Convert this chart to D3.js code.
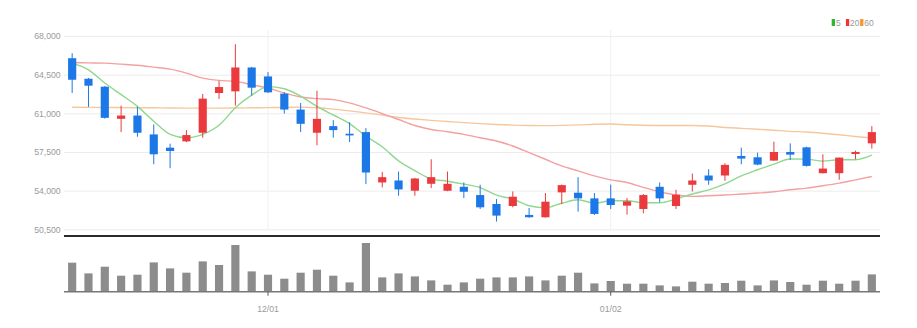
<!DOCTYPE html>
<html>
<head>
<meta charset="utf-8">
<script src="https://cdn.jsdelivr.net/npm/d3@7"></script>
<style>
  html, body { margin: 0; padding: 0; background: #fff; }
  svg { display: block; }
  text { font-family: 'Liberation Sans', Arial, sans-serif; }
</style>
</head>
<body>
<svg id="chart" width="917" height="328"></svg>
<script>
// Trading days (MM/DD), Nov 2022 – Jan 2023
const dates = ["11/15","11/16","11/17","11/18","11/21","11/22","11/23","11/24","11/25","11/28","11/29","11/30",
  "12/01","12/02","12/05","12/06","12/07","12/08","12/09","12/12","12/13","12/14","12/15","12/16","12/19","12/20",
  "12/21","12/22","12/23","12/26","12/27","12/28","12/29",
  "01/02","01/03","01/04","01/05","01/06","01/09","01/10","01/11","01/12","01/13","01/16","01/17","01/18","01/19",
  "01/20","01/25","01/26"];

const open  = [65990,64130,63410,60500,60800,59090,57890,58460,59240,62840,62990,65150,64340,62780,61340,59240,
  59840,59150,59300,54740,54920,53990,54620,53990,54350,53600,52790,52610,51800,51590,53840,53810,53300,53300,
  52640,52340,54350,52610,54530,55370,55370,57140,57020,56720,57500,57920,55580,55580,57320,58280];
const high  = [66440,64200,63480,61700,61580,59990,58250,59480,62750,63950,67250,65200,64730,62900,61940,63050,
  60380,60200,59660,55700,55730,55150,56840,55730,54740,54530,53240,53930,52430,53780,54550,55220,53780,54540,
  53330,53690,54740,54080,55550,55940,56480,57890,57440,58430,58280,57980,57290,56990,57620,59840];
const low   = [62840,61580,60520,59300,58880,56390,56030,58400,58790,62300,61700,62600,62850,60980,59300,58100,
  58790,58400,54590,54290,53540,53540,54230,53950,53330,52340,51200,52490,51550,51550,52790,52100,51800,52340,
  51830,51950,52940,52340,53930,54530,54890,56390,56300,56700,56780,56180,55550,54980,56840,57800];
const close = [64040,63500,60590,60800,59240,57290,57590,59030,62330,63380,65150,63320,62900,61340,60050,60500,
  59480,59000,55640,55220,54110,55100,55220,54620,53900,52490,51740,53450,51590,53000,54500,53300,51890,52700,
  53030,53600,53300,53630,54920,54920,56330,56900,56360,57500,57260,56240,56000,56990,57500,59300];

// Traded volume (thousand shares)
const volume = [14500,9150,12500,8000,8500,14650,11650,9500,15150,13350,23350,10150,8500,6500,9500,11000,8000,
  4650,24350,7150,9150,7650,5650,3500,4650,6500,7150,7150,7650,5650,8000,9500,4150,5350,4000,4000,3150,2650,
  5000,4000,4350,5500,3150,5650,4850,3500,5500,4000,5500,8650];

// Moving averages
const ma5  = [65540,64940,63740,62690,61630,60280,59100,58790,59100,59920,61500,62640,63420,63220,62550,61620,
  60850,60070,58930,57970,56690,55810,55060,54850,54590,54270,53590,53240,52630,52450,52860,53170,52860,53080,
  53080,52900,52900,53250,53700,54070,54620,55340,55890,56400,56870,56850,56670,56800,56800,57210];
const ma20 = [65600,65570,65540,65450,65350,65180,65000,64640,64190,63980,63890,63590,63290,62840,62480,62330,
  62240,61940,61490,60980,60440,59900,59540,59330,59090,58790,58490,58040,57440,56840,56240,55790,55340,54980,
  54740,54290,53900,53600,53480,53540,53600,53690,53780,53900,54080,54230,54440,54680,54980,55280];
const ma60 = [61550,61540,61530,61520,61510,61500,61480,61470,61470,61470,61480,61500,61520,61530,61560,61500,
  61380,61220,61040,60850,60620,60480,60360,60260,60160,60070,59990,59930,59900,59890,59910,59950,60010,60030,
  59960,59920,59900,59900,59900,59850,59720,59640,59560,59470,59370,59310,59200,59060,58900,58760];

const priceTicks = [50500, 54000, 57500, 61000, 64500, 68000];
const dateTicks = ["12/01", "01/02"];
const legendItems = [
  { label: "5",  color: "#2db82d", line: "#8fd88f", values: ma5 },
  { label: "20", color: "#ee3434", line: "#f4a0a0", values: ma20 },
  { label: "60", color: "#f7982c", line: "#f6c79c", values: ma60 }
];

const UP = "#ea3a3e", DOWN = "#1c78e6";
const LABEL = "#9a9a9a";

const svg = d3.select("#chart");
const left = 64, right = 880;

const x = d3.scaleBand().domain(dates).range([left, right]).paddingInner(0.5).paddingOuter(0.25);
const cx = d => x(d) + x.bandwidth() / 2;
const y = d3.scaleLinear().domain([50500, 68000]).range([229.3, 36]);
const yv = d3.scaleLinear().domain([0, 25000]).range([291.7, 241.7]);

// horizontal grid + price labels
const yAxis = d3.axisLeft(y).tickValues(priceTicks).tickSize(-(right - left)).tickFormat(d3.format(","));
const gy = svg.append("g").attr("transform", `translate(${left},0)`).call(yAxis);
gy.select(".domain").remove();
gy.selectAll(".tick line").attr("stroke", "#ececec");
gy.selectAll(".tick text").attr("x", -3.3).attr("fill", LABEL).attr("font-size", 8.7);

// vertical grid at month starts
svg.append("g").selectAll("line").data(dateTicks).join("line")
  .attr("x1", d => cx(d)).attr("x2", d => cx(d))
  .attr("y1", 30).attr("y2", 229)
  .attr("stroke", "#efefef");

// moving average lines
const lineGen = vals => d3.line().x((v, i) => cx(dates[i])).y(v => y(v)).curve(d3.curveMonotoneX)(vals);
svg.append("g").selectAll("path").data(legendItems.slice().reverse()).join("path")
  .attr("d", d => lineGen(d.values))
  .attr("fill", "none").attr("stroke", d => d.line).attr("stroke-width", 1.4);

// candles
const candles = svg.append("g").selectAll("g").data(dates).join("g");
candles.append("line")
  .attr("x1", d => cx(d)).attr("x2", d => cx(d))
  .attr("y1", (d, i) => y(high[i])).attr("y2", (d, i) => y(low[i]))
  .attr("stroke", (d, i) => close[i] >= open[i] ? UP : DOWN).attr("stroke-width", 1);
candles.append("rect")
  .attr("x", d => x(d)).attr("width", x.bandwidth())
  .attr("y", (d, i) => y(Math.max(open[i], close[i])))
  .attr("height", (d, i) => Math.max(1.5, Math.abs(y(open[i]) - y(close[i]))))
  .attr("fill", (d, i) => close[i] >= open[i] ? UP : DOWN);

// price panel bottom border
svg.append("line").attr("x1", left).attr("x2", right).attr("y1", 236).attr("y2", 236)
  .attr("stroke", "#2a2a2a").attr("stroke-width", 2);

// volume bars
svg.append("g").selectAll("rect").data(dates).join("rect")
  .attr("x", d => x(d)).attr("width", x.bandwidth())
  .attr("y", (d, i) => yv(volume[i])).attr("height", (d, i) => yv(0) - yv(volume[i]))
  .attr("fill", "#8c8c8c");

// date axis
const xAxis = d3.axisBottom(x).tickValues(dateTicks).tickSize(4).tickPadding(10);
const gx = svg.append("g").attr("transform", `translate(0,${yv(0)})`).call(xAxis);
gx.select(".domain").attr("d", `M${left},0H${right}`).attr("stroke", "#777").attr("stroke-width", 1.5);
gx.selectAll(".tick line").attr("stroke", "#555");
gx.selectAll(".tick text").attr("fill", LABEL).attr("font-size", 8.7);

// legend
const lg = svg.append("g").attr("font-size", 8.5);
legendItems.forEach((item, i) => {
  const lx = 831.7 + i * 14.2;
  lg.append("rect").attr("x", lx).attr("y", 19).attr("width", 3.3).attr("height", 7).attr("fill", item.color);
  lg.append("text").attr("x", lx + 4.2).attr("y", 25.8).attr("fill", "#999").text(item.label);
});
</script>
</body>
</html>
